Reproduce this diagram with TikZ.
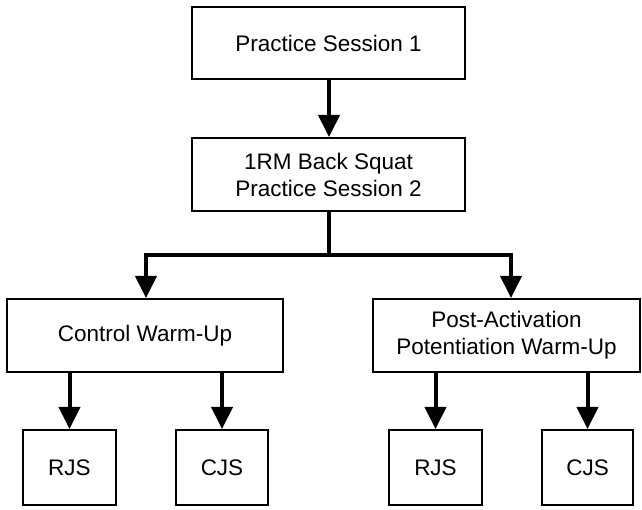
\documentclass[tikz,border=0pt]{standalone}
\usepackage{fontspec}
\setmainfont{Liberation Sans}
\usetikzlibrary{arrows.meta}
\begin{document}
\begin{tikzpicture}[x=1pt,y=1pt,
  box/.style={draw=black, line width=2pt, fill=white, inner sep=0pt, align=center,
    font=\fontsize{22.5}{27}\selectfont},
  conn/.style={line width=4pt, -{Triangle[length=22pt,width=21pt]}},
  plain/.style={line width=4pt}]
\useasboundingbox (0,0) rectangle (642,510);
\node[box, minimum width=273pt, minimum height=72pt] (b1) at (328.5,467) {Practice Session 1};
\node[box, minimum width=273pt, minimum height=73pt] (b2) at (328.5,335.5) {1RM Back Squat\\Practice Session 2};
\node[box, minimum width=276pt, minimum height=73pt] (cw) at (145,174.5) {Control Warm-Up};
\node[box, minimum width=267pt, minimum height=73pt] (pap) at (506.5,174.5) {Post-Activation\\Potentiation Warm-Up};
\node[box, minimum width=93pt, minimum height=75pt] (r1) at (69.5,42.5) {RJS};
\node[box, minimum width=92pt, minimum height=75pt] (c1) at (222,42.5) {CJS};
\node[box, minimum width=93pt, minimum height=75pt] (r2) at (435.5,42.5) {RJS};
\node[box, minimum width=91pt, minimum height=75pt] (c2) at (587.5,42.5) {CJS};
\coordinate (j) at (329,255);
\coordinate (jl) at (146,255);
\coordinate (jr) at (511,255);
\draw[conn] (b1.south -| j) -- (b2.north -| j);
\draw[plain] (b2.south -| j) -- (j);
\draw[plain, line cap=rect] (jl) -- (jr);
\draw[conn] (jl) -- (cw.north -| jl);
\draw[conn] (jr) -- (pap.north -| jr);
\draw[conn] (cw.south -| r1) -- (r1.north);
\draw[conn] (cw.south -| c1) -- (c1.north);
\draw[conn] (pap.south -| r2) -- (r2.north);
\draw[conn] (pap.south -| c2) -- (c2.north);
\end{tikzpicture}
\end{document}
